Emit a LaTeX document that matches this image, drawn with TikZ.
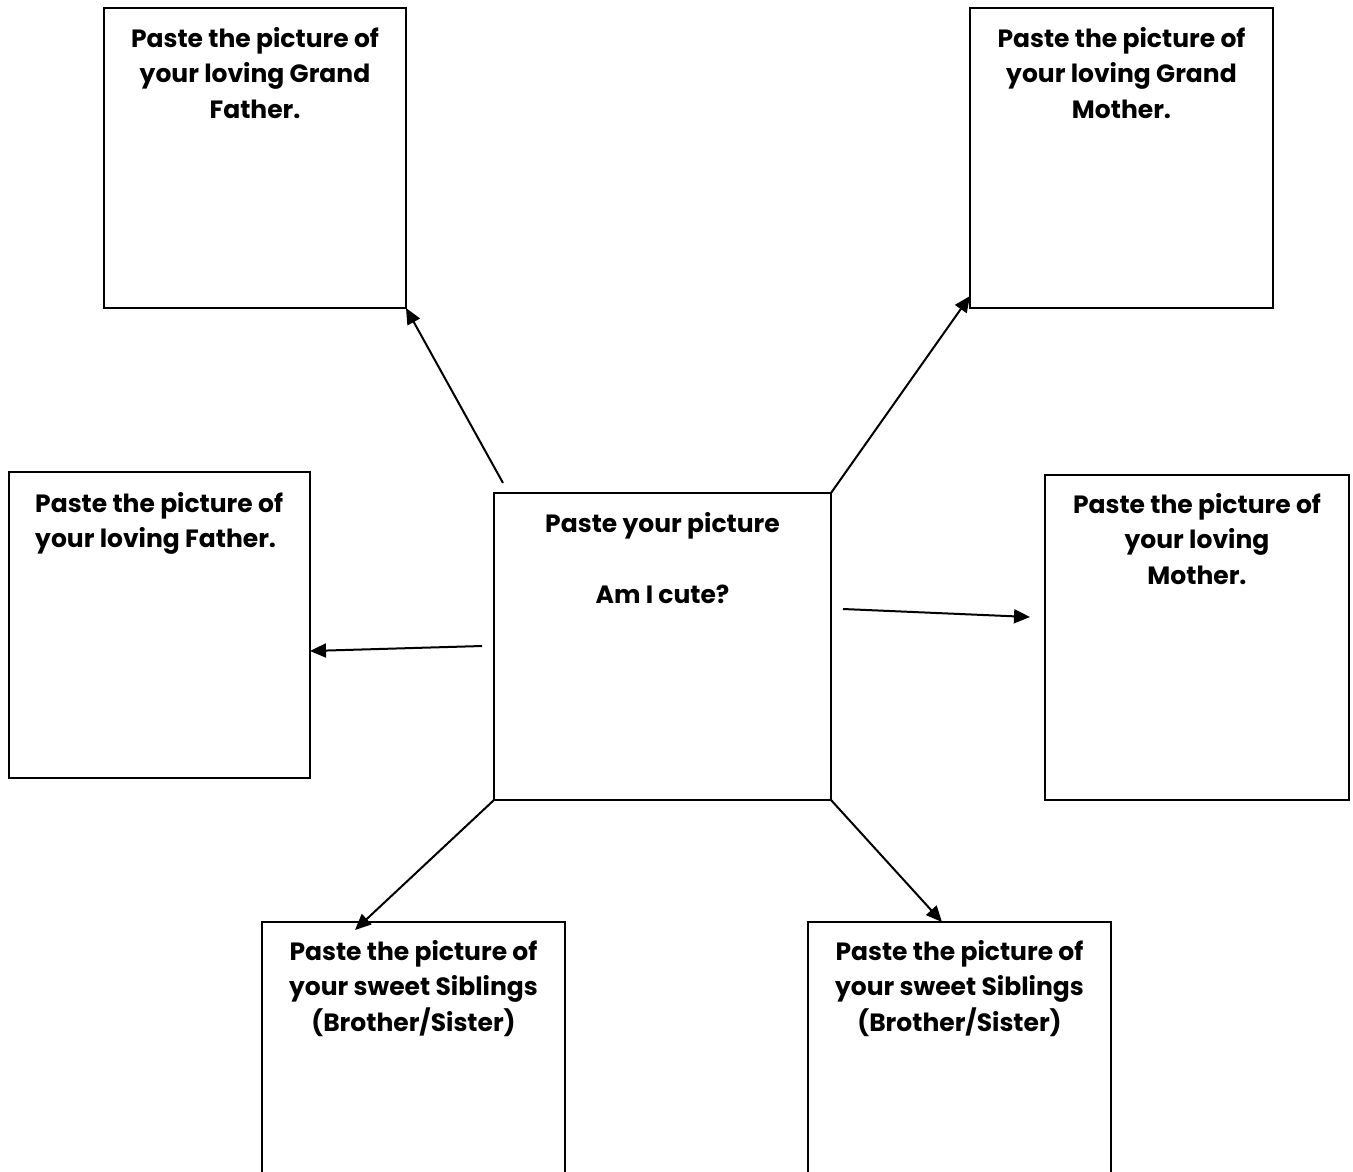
\documentclass[tikz,border=0pt]{standalone}
\usepackage{fontspec}
\setmainfont{Poppins}
\usetikzlibrary{arrows.meta}
\tikzset{
  pbox/.style={draw, line width=2pt, inner sep=0pt, outer sep=0pt},
  lbl/.style={anchor=north, align=center, inner sep=0pt,
    font=\bfseries\fontsize{25}{35.5}\selectfont},
  arr/.style={line width=2pt, -{Triangle[length=16pt,width=14pt]}}
}
\begin{document}
\begin{tikzpicture}[x=1pt,y=-1pt]
\useasboundingbox (0,0) rectangle (1353,1171);
% boxes
\node[pbox, minimum width=302, minimum height=300] (gf) at (255,158) {};
\node[pbox, minimum width=303, minimum height=300] (gm) at (1121.5,158) {};
\node[pbox, minimum width=301, minimum height=306] (fa) at (159.5,625) {};
\node[pbox, minimum width=337, minimum height=307] (me) at (662.5,646.5) {};
\node[pbox, minimum width=304, minimum height=325] (mo) at (1197,637.5) {};
\node[pbox, minimum width=303, minimum height=270] (sl) at (413.5,1057) {};
\node[pbox, minimum width=303, minimum height=270] (sr) at (959.5,1057) {};
% texts
\node[lbl] (gft) at ([yshift=-19pt]gf.north) {Paste the picture of\\your loving Grand\\Father.};
\node[lbl] (gmt) at ([yshift=-19pt]gm.north) {Paste the picture of\\your loving Grand\\Mother.};
\node[lbl, anchor=north west, align=left] (fat) at ([xshift=26pt,yshift=-20pt]fa.north west) {Paste the picture of\\your loving Father.};
\node[lbl] (met) at ([yshift=-19pt]me.north) {Paste your picture\\\mbox{}\\Am I cute?};
\node[lbl] (mot) at ([yshift=-18pt]mo.north) {Paste the picture of\\your loving\\Mother.};
\node[lbl] (slt) at ([yshift=-18pt]sl.north) {Paste the picture of\\your sweet Siblings\\(Brother/Sister)};
\node[lbl] (srt) at ([yshift=-18pt]sr.north) {Paste the picture of\\your sweet Siblings\\(Brother/Sister)};
% connector ends
\coordinate (a1) at (503,483);
\coordinate (b2) at (970,296);
\coordinate (a3) at (482,646);
\coordinate (b3) at (310,651);
\coordinate (a4) at (843,609);
\coordinate (b4) at (1030,617);
\coordinate (b5) at (355,930);
\coordinate (b6) at (942,922);
% arrows
\draw[arr] (a1) -- (gf.south east);
\draw[arr] (me.north east) -- (b2);
\draw[arr] (a3) -- (b3);
\draw[arr] (a4) -- (b4);
\draw[arr] (me.south west) -- (b5);
\draw[arr] (me.south east) -- (b6);
\end{tikzpicture}
\end{document}
